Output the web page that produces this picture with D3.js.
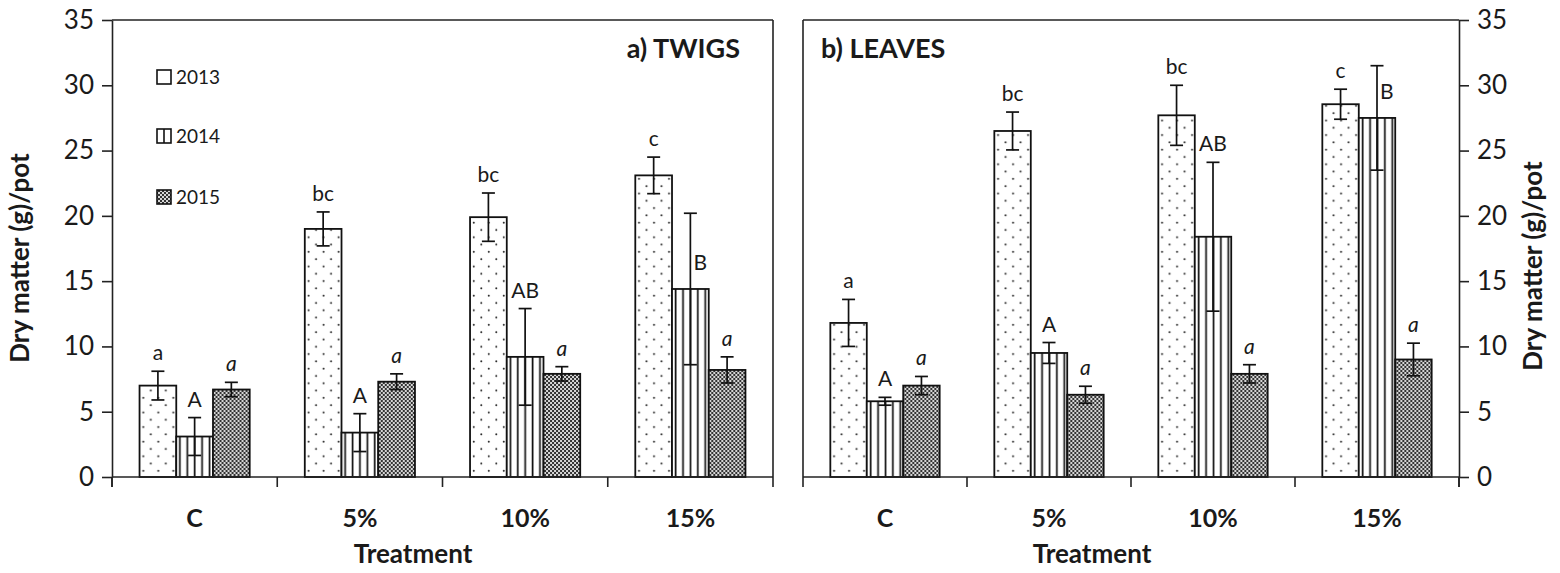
<!DOCTYPE html>
<html><head><meta charset="utf-8">
<script src="https://cdn.jsdelivr.net/npm/d3@7/dist/d3.min.js"></script>
<style>
body{margin:0;background:#fff}
svg{display:block}
text{font-family:Lato,'Liberation Sans',sans-serif;fill:#1a1a1a}
</style>
</head><body>
<svg id="c" width="1560" height="573"></svg>
<script>
// ---------- data ----------
const categories = ["C", "5%", "10%", "15%"];
const years = ["2013", "2014", "2015"];
const yTicks = [0, 5, 10, 15, 20, 25, 30, 35];

const twigs2013 = [7.0, 19.0, 19.9, 23.1];
const twigs2013Err = [1.1, 1.3, 1.85, 1.4];
const twigs2014 = [3.1, 3.4, 9.2, 14.4];
const twigs2014Err = [1.45, 1.45, 3.7, 5.8];
const twigs2015 = [6.7, 7.3, 7.9, 8.2];
const twigs2015Err = [0.55, 0.6, 0.55, 1.0];

const leaves2013 = [11.8, 26.5, 27.7, 28.55];
const leaves2013Err = [1.8, 1.45, 2.3, 1.15];
const leaves2014 = [5.8, 9.5, 18.4, 27.5];
const leaves2014Err = [0.3, 0.8, 5.7, 4.0];
const leaves2015 = [7.0, 6.3, 7.9, 9.0];
const leaves2015Err = [0.7, 0.65, 0.7, 1.25];

const letters2013 = ["a", "bc", "bc", "c"];
const letters2014 = ["A", "A", "AB", "B"];
const letters2015 = ["a", "a", "a", "a"];
// label placed beside the error bar instead of above it
const twigsLetterBeside2014 = [false, false, false, true];
const leavesLetterBeside2014 = [false, false, false, true];

// ---------- chart ----------
const svg = d3.select("#c");
const defs = svg.append("defs");

const pDots = defs.append("pattern").attr("id", "p2013").attr("patternUnits", "userSpaceOnUse")
  .attr("width", 15).attr("height", 14.6);
pDots.append("rect").attr("width", 15).attr("height", 14.6).attr("fill", "#fff");
pDots.append("circle").attr("cx", 3.75).attr("cy", 3.6).attr("r", 1).attr("fill", "#222");
pDots.append("circle").attr("cx", 11.25).attr("cy", 10.9).attr("r", 1).attr("fill", "#222");

const pLines = defs.append("pattern").attr("id", "p2014").attr("patternUnits", "userSpaceOnUse")
  .attr("width", 7.4).attr("height", 10);
pLines.append("rect").attr("width", 7.4).attr("height", 10).attr("fill", "#fff");
pLines.append("rect").attr("x", 2.5).attr("width", 1.7).attr("height", 10).attr("fill", "#111");

const pCheck = defs.append("pattern").attr("id", "p2015").attr("patternUnits", "userSpaceOnUse")
  .attr("width", 4).attr("height", 4);
pCheck.append("rect").attr("width", 4).attr("height", 4).attr("fill", "#d6d6d6");
pCheck.append("rect").attr("width", 2).attr("height", 2).attr("fill", "#333");
pCheck.append("rect").attr("x", 2).attr("y", 2).attr("width", 2).attr("height", 2).attr("fill", "#333");

const fills = {"2013": "url(#p2013)", "2014": "url(#p2014)", "2015": "url(#p2015)"};

const yTop = 20, yBase = 477;
const y = d3.scaleLinear().domain([0, 35]).range([yBase, yTop]);
const axisColor = "#222";

function seriesOf(v13, e13, v14, e14, v15, e15, beside14) {
  return categories.map((c, i) => ({
    cat: c,
    bars: [
      {year: "2013", v: v13[i], e: e13[i], letter: letters2013[i], italic: false, beside: false},
      {year: "2014", v: v14[i], e: e14[i], letter: letters2014[i], italic: false, beside: beside14[i]},
      {year: "2015", v: v15[i], e: e15[i], letter: letters2015[i], italic: true, beside: false}
    ]
  }));
}

const panels = [
  {x0: 112, x1: 773, axis: "left", title: "a) TWIGS", titleX: 740, titleAnchor: "end", treatX: 413,
   data: seriesOf(twigs2013, twigs2013Err, twigs2014, twigs2014Err, twigs2015, twigs2015Err, twigsLetterBeside2014)},
  {x0: 803, x1: 1459, axis: "right", title: "b) LEAVES", titleX: 821, titleAnchor: "start", treatX: 1092,
   data: seriesOf(leaves2013, leaves2013Err, leaves2014, leaves2014Err, leaves2015, leaves2015Err, leavesLetterBeside2014)}
];

panels.forEach(p => {
  const g = svg.append("g");
  const x = d3.scaleBand().domain(categories).range([p.x0, p.x1]).paddingInner(1/3).paddingOuter(1/6);
  const xi = d3.scaleBand().domain(years).range([0, x.bandwidth()]);

  // frame lines (top + far side)
  g.append("line").attr("x1", p.x0).attr("x2", p.x1).attr("y1", yTop).attr("y2", yTop)
    .attr("stroke", axisColor).attr("stroke-width", 1.6);
  const sideX = p.axis === "left" ? p.x1 : p.x0;
  g.append("line").attr("x1", sideX).attr("x2", sideX).attr("y1", yTop).attr("y2", yBase)
    .attr("stroke", axisColor).attr("stroke-width", 1.6);

  // bars
  const grp = g.selectAll(".grp").data(p.data).join("g").attr("transform", d => `translate(${x(d.cat)},0)`);
  grp.selectAll("rect").data(d => d.bars).join("rect")
    .attr("x", d => xi(d.year)).attr("width", xi.bandwidth())
    .attr("y", d => y(d.v)).attr("height", d => y(0) - y(d.v))
    .attr("fill", d => fills[d.year]).attr("stroke", "#111").attr("stroke-width", 1.8);

  // error bars
  const eb = grp.selectAll(".eb").data(d => d.bars).join("g")
    .attr("transform", d => `translate(${xi(d.year) + xi.bandwidth() / 2},0)`);
  eb.append("line").attr("y1", d => y(d.v - d.e)).attr("y2", d => y(d.v + d.e))
    .attr("stroke", "#111").attr("stroke-width", 1.7);
  eb.append("line").attr("x1", -6.5).attr("x2", 6.5).attr("y1", d => y(d.v + d.e)).attr("y2", d => y(d.v + d.e))
    .attr("stroke", "#111").attr("stroke-width", 1.7);
  eb.append("line").attr("x1", -6.5).attr("x2", 6.5).attr("y1", d => y(d.v - d.e)).attr("y2", d => y(d.v - d.e))
    .attr("stroke", "#111").attr("stroke-width", 1.7);

  // letters
  eb.append("text")
    .attr("x", d => d.beside ? 3 : 0)
    .attr("y", d => d.beside ? y(d.v) - 19 : y(d.v + d.e) - 11)
    .attr("text-anchor", d => d.beside ? "start" : "middle")
    .style("font-size", "21px")
    .style("font-style", d => d.italic ? "italic" : "normal")
    .text(d => d.letter);

  // baseline + boundary ticks
  g.append("line").attr("x1", p.x0).attr("x2", p.x1).attr("y1", yBase).attr("y2", yBase)
    .attr("stroke", axisColor).attr("stroke-width", 1.6);
  const half = (x.step() - x.bandwidth()) / 2;
  const bounds = categories.map(c => x(c) - half).concat([p.x1]);
  g.selectAll(".bt").data(bounds).join("line")
    .attr("x1", d => d).attr("x2", d => d).attr("y1", yBase).attr("y2", yBase + 10)
    .attr("stroke", axisColor).attr("stroke-width", 1.6);

  // category labels
  const xa = g.append("g").attr("transform", `translate(0,${yBase})`)
    .call(d3.axisBottom(x).tickSize(0).tickPadding(50));
  xa.select(".domain").remove();
  xa.selectAll("text").attr("dy", "0").style("font-size", "25px").style("font-weight", "bold")
    .style("font-family", "Lato, sans-serif").attr("fill", "#1a1a1a");

  // y axis
  const yAx = p.axis === "left" ? d3.axisLeft(y) : d3.axisRight(y);
  const ya = g.append("g").attr("transform", `translate(${p.axis === "left" ? p.x0 : p.x1},0)`)
    .call(yAx.tickValues(yTicks).tickSize(10).tickSizeOuter(0).tickPadding(8));
  ya.select(".domain").attr("stroke", axisColor).attr("stroke-width", 1.6);
  ya.selectAll(".tick line").attr("stroke", axisColor).attr("stroke-width", 1.6);
  ya.selectAll("text").style("font-size", "26px").style("font-family", "Lato, sans-serif").attr("fill", "#1a1a1a");
  // extend axis line below baseline like a boundary tick
  g.append("line").attr("x1", p.axis === "left" ? p.x0 : p.x1).attr("x2", p.axis === "left" ? p.x0 : p.x1)
    .attr("y1", yBase).attr("y2", yBase + 10).attr("stroke", axisColor).attr("stroke-width", 1.6);

  // titles
  g.append("text").attr("x", p.titleX).attr("y", 58).attr("text-anchor", p.titleAnchor)
    .style("font-size", "27px").style("font-weight", "bold").text(p.title);
  g.append("text").attr("x", p.treatX).attr("y", 563).attr("text-anchor", "middle")
    .style("font-size", "26px").style("font-weight", "bold").text("Treatment");
  const yx = p.axis === "left" ? 29 : 1542;
  const yy = p.axis === "left" ? 258 : 266;
  g.append("text").attr("transform", `translate(${yx},${yy}) rotate(-90)`).attr("text-anchor", "middle")
    .style("font-size", "26px").style("font-weight", "bold").text("Dry matter (g)/pot");
});

// legend
const legendRows = years.map((yr, i) => ({year: yr, cy: [77, 136, 197][i]}));
const lg = svg.append("g");
lg.selectAll("rect").data(legendRows).join("rect")
  .attr("x", 157).attr("y", d => d.cy - 7).attr("width", 14).attr("height", 14)
  .attr("fill", d => d.year === "2015" ? fills[d.year] : "#fff").attr("stroke", "#111").attr("stroke-width", 1.6);
lg.selectAll("line").data(legendRows.filter(d => d.year === "2014")).join("line")
  .attr("x1", 164).attr("x2", 164).attr("y1", d => d.cy - 7).attr("y2", d => d.cy + 7)
  .attr("stroke", "#111").attr("stroke-width", 1.6);
lg.selectAll("text").data(legendRows).join("text")
  .attr("x", 176).attr("y", d => d.cy + 7).style("font-size", "19px").text(d => d.year);
</script>
</body></html>
